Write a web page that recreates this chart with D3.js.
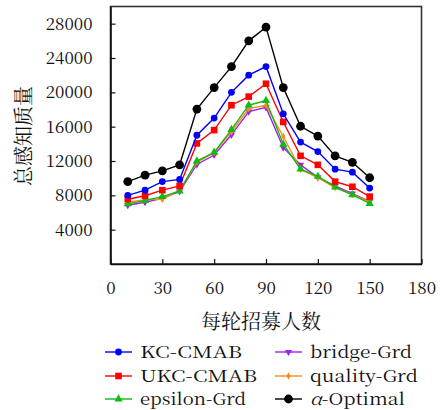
<!DOCTYPE html>
<html>
<head>
<meta charset="utf-8">
<script src="https://cdn.jsdelivr.net/npm/d3@7/dist/d3.min.js"></script>
<style>
  html, body { margin: 0; padding: 0; background: #fff; }
  svg { display: block; }
</style>
</head>
<body>
<svg id="chart" width="444" height="410"></svg>
<script>
// Recruits per round (x) and total perceived quality per algorithm
const recruits = [10, 20, 30, 40, 50, 60, 70, 80, 90, 100, 110, 120, 130, 140, 150];
const kcCmab   = [8000, 8600, 9600, 9850, 15000, 17000, 20000, 22000, 23000, 17500, 14200, 13100, 11050, 10700, 8850];
const ukcCmab  = [7550, 7950, 8600, 9100, 14050, 15600, 18500, 19500, 21000, 16550, 12600, 11550, 9600, 9000, 7850];
const epsilonGrd = [7000, 7400, 7850, 8500, 12000, 13000, 15650, 18500, 19050, 13950, 11050, 10200, 8950, 8050, 7050];
const bridgeGrd  = [6850, 7200, 7650, 8450, 11600, 12700, 15050, 17750, 18250, 13550, 11550, 10100, 9100, 8200, 7300];
const qualityGrd = [7200, 7500, 7550, 8600, 11850, 13000, 15400, 18100, 18500, 14850, 11000, 10050, 8900, 8100, 7250];
const alphaOptimal = [9600, 10350, 10850, 11550, 18050, 20550, 23000, 26000, 27600, 20550, 16050, 14900, 12600, 11850, 10050];

const xTicks = [0, 30, 60, 90, 120, 150, 180];
const yTicks = [4000, 8000, 12000, 16000, 20000, 24000, 28000];

const SERIF = "Noto Serif CJK SC, Liberation Serif, DejaVu Serif, serif";

const series = [
  { name: "bridge-Grd",  values: bridgeGrd,   color: "#a020f0", marker: "triDown",  labelWidth: 102 },
  { name: "quality-Grd", values: qualityGrd,  color: "#ff8c1a", marker: "diamond",  labelWidth: 108 },
  { name: "epsilon-Grd", values: epsilonGrd,  color: "#11bb11", marker: "triUp",    labelWidth: 106 },
  { name: "UKC-CMAB",    values: ukcCmab,     color: "#ff0000", marker: "square",   labelWidth: 117 },
  { name: "KC-CMAB",     values: kcCmab,      color: "#0000ff", marker: "circle",   labelWidth: 102 },
  { name: "α-Optimal",   values: alphaOptimal, color: "#000000", marker: "bigCircle", labelWidth: 95 }
];

const svg = d3.select("#chart");
const x = d3.scaleLinear().domain([0, 180]).range([110.5, 421.5]);
const y = d3.scaleLinear().domain([0, 30000]).range([264, 6.5]);

// Frame
svg.append("rect")
  .attr("x", x(0)).attr("y", y(30000))
  .attr("width", x(180) - x(0)).attr("height", y(0) - y(30000))
  .attr("fill", "none").attr("stroke", "#333").attr("stroke-width", 1.6);

// Axes with inward ticks
const xAxis = svg.append("g").attr("transform", `translate(0,${y(0)})`)
  .call(d3.axisBottom(x).tickValues(xTicks).tickSizeInner(-5).tickSizeOuter(0).tickPadding(18));
const yAxis = svg.append("g").attr("transform", `translate(${x(0)},0)`)
  .call(d3.axisLeft(y).tickValues(yTicks).tickFormat(d3.format("d")).tickSizeInner(-5).tickSizeOuter(0).tickPadding(18));
[xAxis, yAxis].forEach(a => {
  a.attr("font-family", null);
  a.select(".domain").attr("stroke", "#111").attr("stroke-width", 1.6);
  a.selectAll(".tick line").attr("stroke", "#111").attr("stroke-width", 1.2);
  a.selectAll(".tick text").attr("font-size", 17).attr("fill", "#111")
    .style("font-family", SERIF);
});

// Axis titles
svg.append("text").style("font-family", SERIF)
  .attr("x", 261).attr("y", 329).attr("text-anchor", "middle")
  .attr("font-size", 20).attr("fill", "#111").text("每轮招募人数");
svg.append("text").style("font-family", SERIF)
  .attr("transform", "translate(31,136) rotate(-90)").attr("text-anchor", "middle")
  .attr("font-size", 20).attr("fill", "#111").text("总感知质量");

function drawMarker(g, type, color) {
  switch (type) {
    case "circle":
      g.append("circle").attr("r", 3.4).attr("fill", color); break;
    case "bigCircle":
      g.append("circle").attr("r", 4.4).attr("fill", color); break;
    case "square":
      g.append("rect").attr("x", -3.3).attr("y", -3.3).attr("width", 6.6).attr("height", 6.6).attr("fill", color); break;
    case "triUp":
      g.append("path").attr("d", d3.symbol(d3.symbolTriangle, 30)()).attr("fill", color); break;
    case "triDown":
      g.append("path").attr("d", d3.symbol(d3.symbolTriangle, 22)()).attr("transform", "rotate(180)").attr("fill", color); break;
    case "diamond":
      g.append("path").attr("d", d3.symbol(d3.symbolDiamond, 16)()).attr("fill", color); break;
  }
}

const line = d3.line().x((d, i) => x(recruits[i])).y(d => y(d));

series.forEach(s => {
  const g = svg.append("g");
  g.append("path").attr("d", line(s.values))
    .attr("fill", "none").attr("stroke", s.color).attr("stroke-width", 1.4);
  s.values.forEach((v, i) => {
    const m = g.append("g").attr("transform", `translate(${x(recruits[i])},${y(v)})`);
    drawMarker(m, s.marker, s.color);
  });
});

// Legend: two columns of three entries
const legendOrder = ["KC-CMAB", "UKC-CMAB", "epsilon-Grd", "bridge-Grd", "quality-Grd", "α-Optimal"];
const rowY = [352, 376, 399];
legendOrder.forEach((name, k) => {
  const s = series.find(d => d.name === name);
  const col = Math.floor(k / 3), row = k % 3;
  const x0 = col === 0 ? 105 : 275;
  const g = svg.append("g").attr("transform", `translate(${x0},${rowY[row]})`);
  g.append("line").attr("x1", 0).attr("x2", 27).attr("stroke", s.color).attr("stroke-width", 1.4);
  const m = g.append("g").attr("transform", "translate(13.5,0)");
  drawMarker(m, s.marker, s.color);
  const t = g.append("text").attr("x", 35).attr("y", 6)
    .attr("font-size", 16.5).style("font-family", SERIF).attr("fill", "#111")
    .attr("textLength", s.labelWidth).attr("lengthAdjust", "spacingAndGlyphs");
  if (name.startsWith("α")) {
    t.append("tspan").attr("font-style", "italic").text("α");
    t.append("tspan").text("-Optimal");
  } else {
    t.text(name);
  }
});
</script>
</body>
</html>
